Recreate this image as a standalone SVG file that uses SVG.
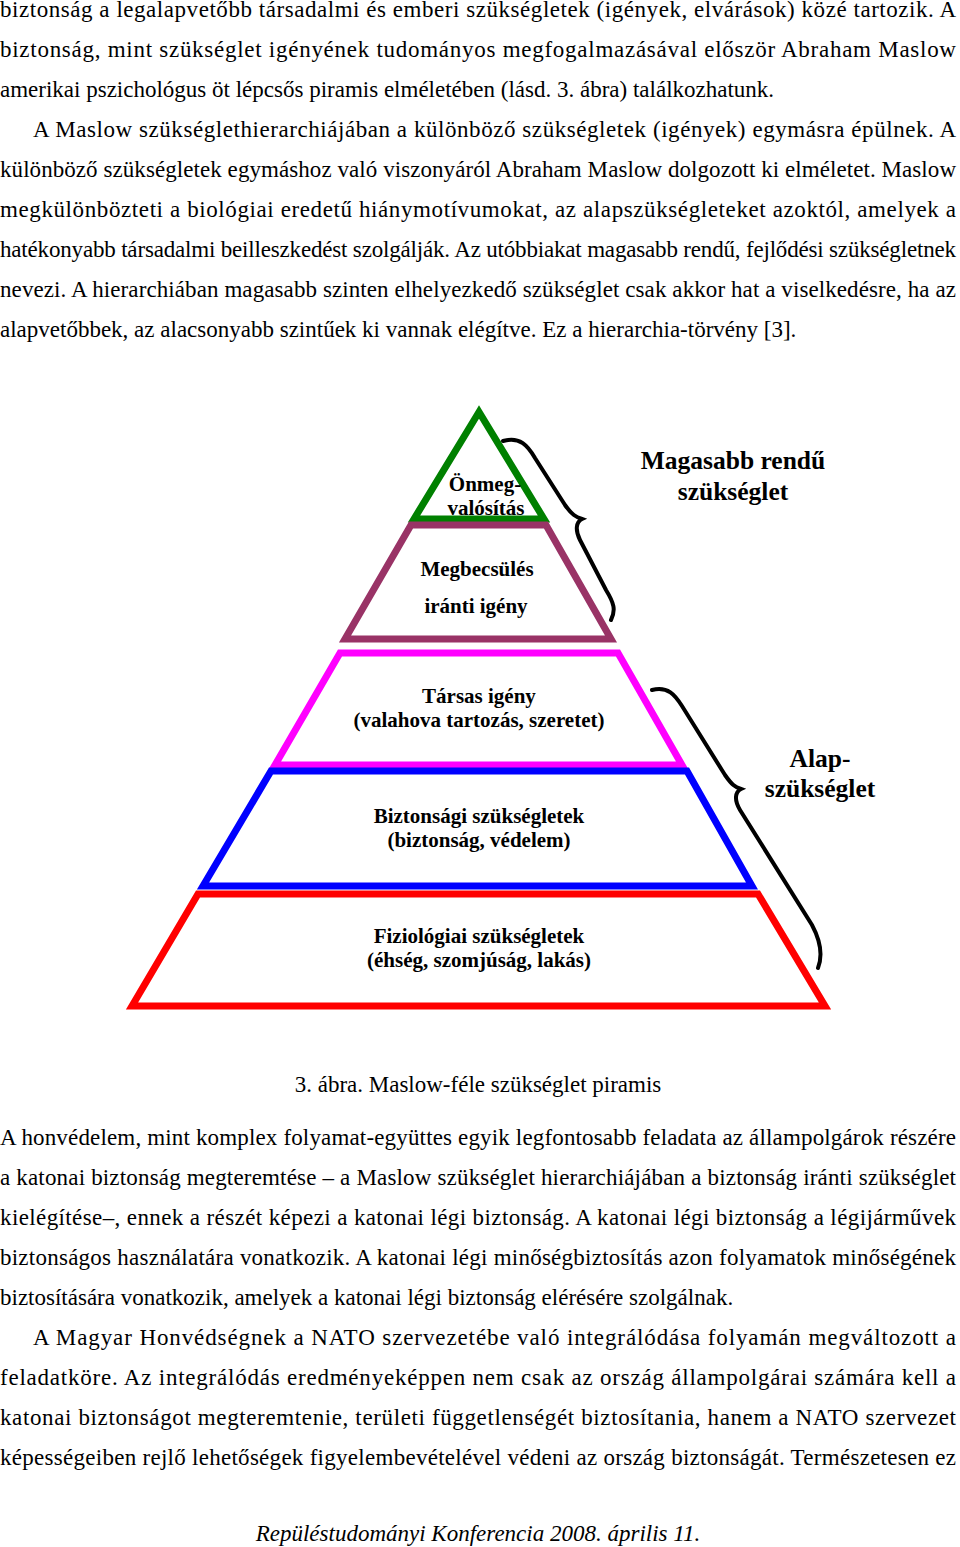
<svg xmlns="http://www.w3.org/2000/svg" width="960" height="1547" viewBox="0 0 960 1547">
<style>
.b{font-family:"Liberation Serif",serif;font-size:23px;fill:#000}
.p{font-family:"Liberation Serif",serif;font-size:21px;font-weight:bold;fill:#000;text-anchor:middle}
.h{font-family:"Liberation Serif",serif;font-size:25.5px;font-weight:bold;fill:#000;text-anchor:middle}
.s{fill:none;stroke-width:7;stroke-linejoin:miter}
.br{fill:none;stroke:#000;stroke-width:4;stroke-linecap:round}
</style>
<rect width="960" height="1547" fill="#fff"/>
<g id="text-top">
<text class="b" x="0" y="17" textLength="956" lengthAdjust="spacing">biztonság a legalapvetőbb társadalmi és emberi szükségletek (igények, elvárások) közé tartozik. A</text>
<text class="b" x="0" y="57" textLength="956" lengthAdjust="spacing">biztonság, mint szükséglet igényének tudományos megfogalmazásával először Abraham Maslow</text>
<text class="b" x="0" y="97">amerikai pszichológus öt lépcsős piramis elméletében (lásd. 3. ábra) találkozhatunk.</text>
<text class="b" x="33" y="137" textLength="923" lengthAdjust="spacing">A Maslow szükséglethierarchiájában a különböző szükségletek (igények) egymásra épülnek. A</text>
<text class="b" x="0" y="177" textLength="956" lengthAdjust="spacing">különböző szükségletek egymáshoz való viszonyáról Abraham Maslow dolgozott ki elméletet. Maslow</text>
<text class="b" x="0" y="217" textLength="956" lengthAdjust="spacing">megkülönbözteti a biológiai eredetű hiánymotívumokat, az alapszükségleteket azoktól, amelyek a</text>
<text class="b" x="0" y="257" textLength="956" lengthAdjust="spacing">hatékonyabb társadalmi beilleszkedést szolgálják. Az utóbbiakat magasabb rendű, fejlődési szükségletnek</text>
<text class="b" x="0" y="297" textLength="956" lengthAdjust="spacing">nevezi. A hierarchiában magasabb szinten elhelyezkedő szükséglet csak akkor hat a viselkedésre, ha az</text>
<text class="b" x="0" y="337">alapvetőbbek, az alacsonyabb szintűek ki vannak elégítve. Ez a hierarchia-törvény [3].</text>
</g>
<g id="level-5">
<polygon class="s" stroke="#008000" points="479,412 414,519 544,519"/>
<text class="p" x="485" y="491">Önmeg-</text>
<text class="p" x="486" y="515">valósítás</text>
</g>
<g id="level-4">
<polygon class="s" stroke="#993366" points="411,525 546,525 611,639 345,639"/>
<text class="p" x="477" y="576">Megbecsülés</text>
<text class="p" x="476" y="613">iránti igény</text>
</g>
<g id="level-3">
<polygon class="s" stroke="#ff00ff" points="340,653 618,653 682,765 275,765"/>
<text class="p" x="479" y="703">Társas igény</text>
<text class="p" x="479" y="727">(valahova tartozás, szeretet)</text>
</g>
<g id="level-2">
<polygon class="s" stroke="#0000ff" points="271,771 687,771 752,886 203,886"/>
<text class="p" x="479" y="823">Biztonsági szükségletek</text>
<text class="p" x="479" y="847">(biztonság, védelem)</text>
</g>
<g id="level-1">
<polygon class="s" stroke="#ff0000" points="198,894 758,894 825,1006 132,1006"/>
<text class="p" x="479" y="943">Fiziológiai szükségletek</text>
<text class="p" x="479" y="967">(éhség, szomjúság, lakás)</text>
</g>
<g id="connectors">
<path class="br" d="M503,441 C520,436 528,446 535,458 L565,505 C572,515 576,517 582,519 C576,522 575,530 580,540 L606,590 C614,603 616,610 611,620"/>
<path class="br" d="M652,690 C668,686 675,695 682,706 L725,775 C732,785 735,787 741,789 C735,792 734,800 740,810 L812,925 C820,940 823,955 818,968"/>
</g>
<g id="labels">
<text class="h" x="733" y="469">Magasabb rendű</text>
<text class="h" x="733" y="500">szükséglet</text>
<text class="h" x="820" y="767">Alap-</text>
<text class="h" x="820" y="797">szükséglet</text>
</g>
<text class="b" x="478" y="1092" text-anchor="middle">3. ábra. Maslow-féle szükséglet piramis</text>
<g id="text-bottom">
<text class="b" x="0" y="1145" textLength="956" lengthAdjust="spacing">A honvédelem, mint komplex folyamat-együttes egyik legfontosabb feladata az állampolgárok részére</text>
<text class="b" x="0" y="1185" textLength="956" lengthAdjust="spacing">a katonai biztonság megteremtése – a Maslow szükséglet hierarchiájában a biztonság iránti szükséglet</text>
<text class="b" x="0" y="1225" textLength="956" lengthAdjust="spacing">kielégítése–, ennek a részét képezi a katonai légi biztonság. A katonai légi biztonság a légijárművek</text>
<text class="b" x="0" y="1265" textLength="956" lengthAdjust="spacing">biztonságos használatára vonatkozik. A katonai légi minőségbiztosítás azon folyamatok minőségének</text>
<text class="b" x="0" y="1305">biztosítására vonatkozik, amelyek a katonai légi biztonság elérésére szolgálnak.</text>
<text class="b" x="33" y="1345" textLength="923" lengthAdjust="spacing">A Magyar Honvédségnek a NATO szervezetébe való integrálódása folyamán megváltozott a</text>
<text class="b" x="0" y="1385" textLength="956" lengthAdjust="spacing">feladatköre. Az integrálódás eredményeképpen nem csak az ország állampolgárai számára kell a</text>
<text class="b" x="0" y="1425" textLength="956" lengthAdjust="spacing">katonai biztonságot megteremtenie, területi függetlenségét biztosítania, hanem a NATO szervezet</text>
<text class="b" x="0" y="1465" textLength="956" lengthAdjust="spacing">képességeiben rejlő lehetőségek figyelembevételével védeni az ország biztonságát. Természetesen ez</text>
</g>
<text class="b" x="478" y="1541" text-anchor="middle" font-style="italic">Repüléstudományi Konferencia 2008. április 11.</text>
</svg>
